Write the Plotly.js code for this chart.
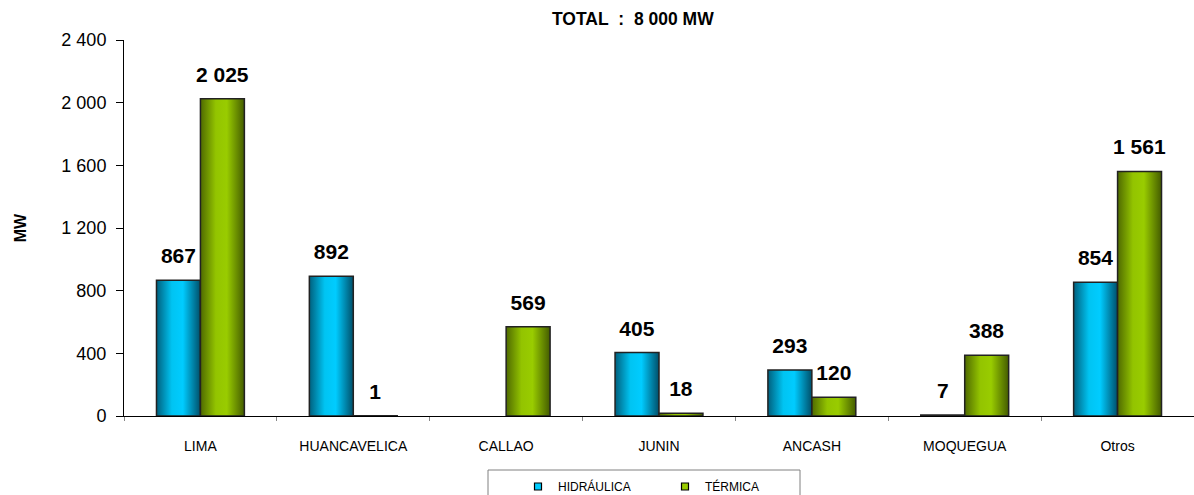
<!DOCTYPE html>
<html>
<head>
<meta charset="utf-8">
<script src="https://cdn.plot.ly/plotly-3.0.1.min.js"></script>
<style>html,body{margin:0;padding:0;background:#fff;}#chart{width:1194px;height:495px;}</style>
</head>
<body>
<div id="chart"></div>
<script>
var categories = ["LIMA", "HUANCAVELICA", "CALLAO", "JUNIN", "ANCASH", "MOQUEGUA", "Otros"];
var hidraulica = [867, 892, null, 405, 293, 7, 854];
var termica = [2025, 1, 569, 18, 120, 388, 1561];
var yTicks = [0, 400, 800, 1200, 1600, 2000, 2400];
var seriesNames = ["HIDRÁULICA", "TÉRMICA"];
var titleText = "TOTAL\u00a0\u00a0:\u00a0\u00a08\u00a0000\u00a0MW";

function fmt(v) {
  if (v === null || v === undefined) return "";
  return String(v).replace(/\B(?=(\d{3})+(?!\d))/g, "\u00a0");
}

var FONT = "Arial, 'Liberation Sans', sans-serif";
var labelFont = {family: FONT, size: 21, color: "#000", weight: "bold"};
var blue = "#00b4e0", green = "#88b800";

var traces = [
  {
    type: "bar", name: seriesNames[0], x: categories, y: hidraulica,
    text: hidraulica.map(fmt), texttemplate: "%{text}",
    marker: {color: blue, line: {color: "#222", width: 1.5}},
    textposition: "outside", constraintext: "none", textfont: labelFont, cliponaxis: false, showlegend: false
  },
  {
    type: "bar", name: seriesNames[1], x: categories, y: termica,
    text: termica.map(fmt), texttemplate: "%{text}",
    marker: {color: green, line: {color: "#222", width: 1.5}},
    textposition: "outside", constraintext: "none", textfont: labelFont, cliponaxis: false, showlegend: false
  },
  {
    type: "scatter", mode: "markers", name: seriesNames[0], x: [null], y: [null],
    marker: {symbol: "square", size: 7, color: "#00ccff", line: {color: "#000", width: 1.2}}
  },
  {
    type: "scatter", mode: "markers", name: seriesNames[1], x: [null], y: [null],
    marker: {symbol: "square", size: 7, color: "#99cc00", line: {color: "#000", width: 1.2}}
  }
];

var layout = {
  width: 1194, height: 495,
  margin: {l: 124, r: 0, t: 40, b: 79, autoexpand: false},
  paper_bgcolor: "#fff", plot_bgcolor: "#fff",
  font: {family: FONT, color: "#000"},
  title: {text: "<b>" + titleText + "</b>", font: {size: 17.5}, x: 0.53, xanchor: "center",
          xref: "container", yref: "container", y: 0.962, yanchor: "middle"},
  barmode: "group", bargap: 0.425, bargroupgap: 0,
  showlegend: true,
  legend: {orientation: "h", xref: "container", yref: "container",
           x: 518 / 1194, xanchor: "left", y: (495 - 472) / 495, yanchor: "top",
           borderwidth: 0, bgcolor: "rgba(0,0,0,0)", font: {size: 12, family: FONT},
           itemwidth: 30, entrywidth: 102, traceorder: "normal"},
  shapes: [{
    type: "rect", xref: "paper", yref: "paper",
    x0: (488 - 124) / 1070, x1: (800 - 124) / 1070,
    y0: (416 - 470) / 376, y1: (416 - 505) / 376,
    line: {color: "#808080", width: 1}, fillcolor: "rgba(0,0,0,0)", layer: "above"
  }],
  xaxis: {
    type: "category", showline: true, linecolor: "#000", linewidth: 1,
    ticks: "outside", tickson: "boundaries", ticklen: 4, tickcolor: "#888",
    tickfont: {size: 14}, ticklabelstandoff: 17, showgrid: false, zeroline: false
  },
  yaxis: {
    range: [0, 2400], tickvals: yTicks, ticktext: yTicks.map(fmt),
    showline: true, linecolor: "#000", linewidth: 1, ticks: "outside", ticklen: 7, tickcolor: "#000",
    tickfont: {size: 18}, ticklabelstandoff: 6, showgrid: false, zeroline: false,
    title: {text: "<b>MW</b>", font: {size: 16}, standoff: 30}
  }
};

function addGradient(svg, id, stops) {
  var ns = "http://www.w3.org/2000/svg";
  var defs = svg.querySelector("defs");
  if (!defs) { defs = document.createElementNS(ns, "defs"); svg.insertBefore(defs, svg.firstChild); }
  var g = document.createElementNS(ns, "linearGradient");
  g.setAttribute("id", id);
  g.setAttribute("x1", "0"); g.setAttribute("x2", "1"); g.setAttribute("y1", "0"); g.setAttribute("y2", "0");
  stops.forEach(function(s) {
    var st = document.createElementNS(ns, "stop");
    st.setAttribute("offset", s[0]); st.setAttribute("stop-color", s[1]);
    g.appendChild(st);
  });
  defs.appendChild(g);
}

Plotly.newPlot("chart", traces, layout, {displayModeBar: false, staticPlot: true}).then(function(gd) {
  var svg = gd.querySelector(".main-svg");
  addGradient(svg, "gradBlue", [["0", "#00607e"], ["0.35", "#00c4f2"], ["0.6", "#00ccff"], ["1", "#004f6a"]]);
  addGradient(svg, "gradGreen", [["0", "#4f6a00"], ["0.35", "#93c400"], ["0.6", "#99cc00"], ["1", "#445c00"]]);
  var barTraces = gd.querySelectorAll(".barlayer .trace");
  var ids = ["gradBlue", "gradGreen"];
  barTraces.forEach(function(t, i) {
    t.querySelectorAll(".point path").forEach(function(p) { p.style.fill = "url(#" + ids[i] + ")"; });
    t.querySelectorAll(".point text").forEach(function(tx) {
      tx.setAttribute("transform", "translate(0,-10) " + (tx.getAttribute("transform") || ""));
    });
  });
});
</script>
</body>
</html>
